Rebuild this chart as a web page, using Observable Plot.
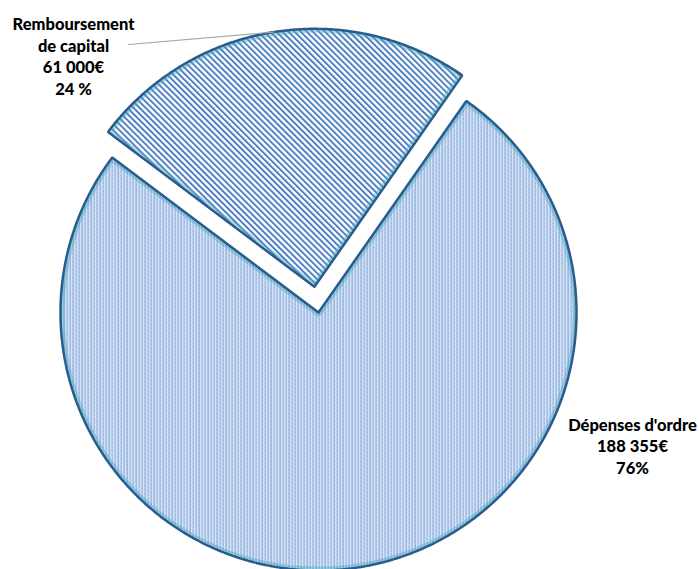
<!DOCTYPE html>
<html><head><meta charset="utf-8">
<script src="https://cdn.jsdelivr.net/npm/d3@7"></script>
<script src="https://cdn.jsdelivr.net/npm/@observablehq/plot@0.6"></script>
<style>body{margin:0;background:#fff}</style>
</head><body><div id="chart"></div>
<script>
// ---- data ----
const categories = ["Dépenses d'ordre", "Remboursement de capital"];
const labelLines = [["Dépenses d'ordre"], ["Remboursement", "de capital"]];
const amounts = [188355, 61000];
const amountLabels = ["188 355€", "61 000€"];
const percentLabels = ["76%", "24 %"];

// ---- layout ----
const W = 699, H = 569, CX = 318, CY = 312, R = 258;
const EXPLODE = [0, 26];
const START_DEG = 34.97;
const LABEL_POS = [[632, 445], [73, 55]];
const LEADER_START = [128, 44];

const pie = d3.pie().sort(null).value(d => d.value)
  .startAngle(START_DEG * Math.PI / 180)
  .endAngle(START_DEG * Math.PI / 180 + 2 * Math.PI);
const arcs = pie(categories.map((c, i) => ({name: c, value: amounts[i]})));

function sliceCenter(a) {
  const mid = (a.startAngle + a.endAngle) / 2, off = EXPLODE[a.index];
  return [CX + off * Math.sin(mid), CY - off * Math.cos(mid), mid];
}
function slicePoints(a) {
  const [cx, cy] = sliceCenter(a);
  const pts = [{x: cx, y: cy}];
  const n = Math.ceil((a.endAngle - a.startAngle) / (Math.PI / 360));
  for (let k = 0; k <= n; k++) {
    const t = a.startAngle + (a.endAngle - a.startAngle) * k / n;
    pts.push({x: cx + R * Math.sin(t), y: cy - R * Math.cos(t)});
  }
  pts.push({x: cx, y: cy});
  return pts;
}
const bigPts = slicePoints(arcs[0]);
const smallPts = slicePoints(arcs[1]);

const [scx, scy, smid] = sliceCenter(arcs[1]);
const leader = [{x: LEADER_START[0], y: LEADER_START[1]},
                {x: scx + R * Math.sin(smid), y: scy - R * Math.cos(smid)}];

const labels = categories.map((c, i) => ({
  x: LABEL_POS[i][0], y: LABEL_POS[i][1],
  text: [...labelLines[i], amountLabels[i], percentLabels[i]].join("\n")
}));

const OUTLINE = "#2b5a8c", GLOW = "#4bacc6";
const chart = Plot.plot({
  width: W, height: H, margin: 0,
  x: {domain: [0, W], range: [0, W], axis: null},
  y: {domain: [0, H], range: [0, H], axis: null},
  marks: [
    Plot.line(bigPts, {x: "x", y: "y", fill: "url(#dots)", stroke: "none"}),
    Plot.line(smallPts, {x: "x", y: "y", fill: "url(#stripes)", stroke: "none"}),
    Plot.line(bigPts, {x: "x", y: "y", stroke: GLOW, strokeWidth: 8, strokeOpacity: 0.45, fill: "none"}),
    Plot.line(smallPts, {x: "x", y: "y", stroke: GLOW, strokeWidth: 8, strokeOpacity: 0.45, fill: "none"}),
    Plot.line(bigPts, {x: "x", y: "y", stroke: OUTLINE, strokeWidth: 2.5, strokeLinejoin: "miter", fill: "none"}),
    Plot.line(smallPts, {x: "x", y: "y", stroke: OUTLINE, strokeWidth: 2.5, strokeLinejoin: "miter", fill: "none"}),
    Plot.line(leader, {x: "x", y: "y", stroke: "#a6a6a6", strokeWidth: 1.2}),
    Plot.text(labels, {x: "x", y: "y", text: "text", fontFamily: "Lato", fontWeight: 900,
      fontSize: 16.5, lineHeight: 1.32, fill: "#000", textAnchor: "middle", lineAnchor: "middle"})
  ]
});

const svg = d3.select(chart);
const defs = svg.insert("defs", ":first-child");
const P = 4.3;
const st = defs.append("pattern").attr("id", "stripes").attr("patternUnits", "userSpaceOnUse")
  .attr("width", P).attr("height", P).attr("patternTransform", "rotate(-45)");
st.append("rect").attr("width", P).attr("height", P).attr("fill", "#fff");
st.append("rect").attr("width", 1.9).attr("height", P).attr("fill", "#4a7ec0");

const dt = defs.append("pattern").attr("id", "dots").attr("patternUnits", "userSpaceOnUse")
  .attr("width", 9).attr("height", 4);
dt.append("rect").attr("width", 9).attr("height", 4).attr("fill", "#eef3fb");
[[0,0,"#4f81c4"],[0,1,"#8fb0de"],[0,2,"#5b8bd0"],[0,3,"#a9c2e8"],
 [1,0,"#c9d8f0"],[1,1,"#b0c7ea"],[1,2,"#d3e0f3"],[1,3,"#b0c7ea"],
 [3,0,"#7aa0d8"],[3,1,"#c3d4ee"],[3,2,"#4f81c4"],[3,3,"#9ab8e2"],
 [4,0,"#d3e0f3"],[4,1,"#a4bee6"],[4,2,"#c3d4ee"],[4,3,"#d3e0f3"],
 [6,0,"#8fb0de"],[6,1,"#6d96d4"],[6,2,"#a4bee6"],[6,3,"#5b8bd0"],
 [7,0,"#c3d4ee"],[7,1,"#d3e0f3"],[7,2,"#b5caea"],[7,3,"#d3e0f3"],
 [2,1,"#dde7f5"],[5,3,"#dde7f5"],[8,1,"#dde7f5"]].forEach(([x,y,c]) =>
  dt.append("rect").attr("x", x).attr("y", y).attr("width", 1).attr("height", 1).attr("fill", c));

// clip glow strokes to the inside of each slice
const groups = chart.querySelectorAll("g[aria-label=line]");
[0, 1].forEach(i => {
  const fillPath = groups[i].querySelector("path");
  defs.append("clipPath").attr("id", "clip" + i).append("path").attr("d", fillPath.getAttribute("d"));
  groups[i + 2].setAttribute("clip-path", `url(#clip${i})`);
});

document.getElementById("chart").appendChild(chart);
</script>
</body></html>
